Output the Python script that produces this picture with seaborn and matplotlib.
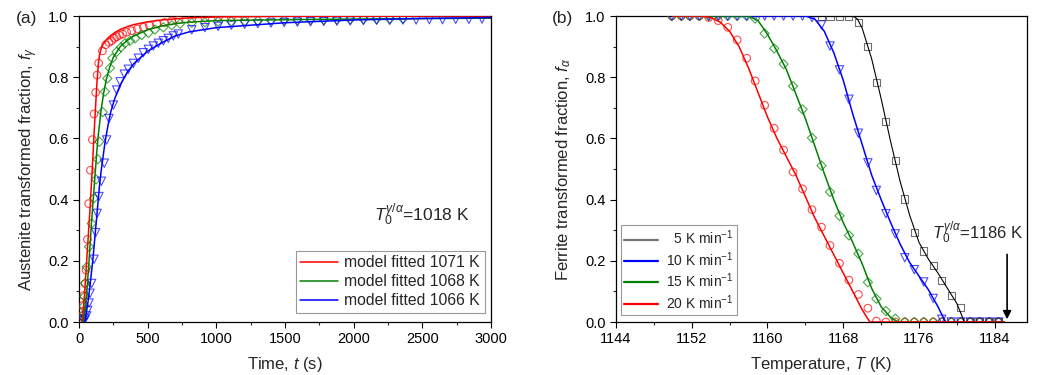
import matplotlib
matplotlib.use("Agg")
import matplotlib.pyplot as plt
from matplotlib.ticker import MultipleLocator, FormatStrFormatter
import pandas as pd
import seaborn as sns

# ---------------- (a) austenite formation, isothermal ----------------
t_1071 = [5, 12, 18, 24, 30, 36, 44, 51, 61, 70, 83, 97, 109, 121, 131, 143, 170, 194, 218, 238,
          257, 274, 294, 318, 347, 383, 425, 469, 512, 566, 622, 675, 728, 821, 917, 1013, 1109, 1206]
f_1071 = [0.005, 0.01, 0.02, 0.035, 0.055, 0.087, 0.125, 0.17, 0.27, 0.387, 0.496, 0.596, 0.68, 0.75,
          0.807, 0.846, 0.886, 0.906, 0.914, 0.919, 0.927, 0.932, 0.937, 0.941, 0.947, 0.952, 0.958,
          0.963, 0.969, 0.974, 0.979, 0.984, 0.988, 0.991, 0.993, 0.995, 0.996, 0.997]

t_1068 = [8, 16, 25, 31, 39, 44, 56, 73, 92, 109, 124, 136, 148, 172, 189, 206, 225, 243, 274, 306,
          335, 371, 408, 456, 505, 553, 614, 675, 736, 821, 917, 1013, 1109, 1206, 1302, 1398, 1494,
          1590, 1686, 1782, 1878, 1975, 2071, 2167, 2263, 2359]
f_1068 = [0.004, 0.01, 0.02, 0.05, 0.083, 0.127, 0.18, 0.246, 0.322, 0.405, 0.466, 0.532, 0.589,
          0.686, 0.753, 0.796, 0.83, 0.862, 0.883, 0.898, 0.911, 0.919, 0.927, 0.938, 0.945, 0.956,
          0.963, 0.97, 0.975, 0.978, 0.98, 0.982, 0.983, 0.984, 0.985, 0.986, 0.987, 0.987, 0.988,
          0.988, 0.989, 0.989, 0.99, 0.99, 0.99, 0.991]

t_1066 = [30, 44, 56, 63, 73, 80, 92, 109, 121, 132, 145, 163, 184, 201, 218, 250, 274, 299, 330, 359,
          396, 432, 468, 505, 541, 578, 614, 650, 687, 723, 821, 917, 1013, 1109, 1206, 1302, 1398,
          1494, 1590, 1686, 1782, 1878, 1975, 2071, 2167, 2263, 2359, 2455, 2551, 2647, 2743, 2839, 2935]
f_1066 = [0.005, 0.01, 0.02, 0.038, 0.062, 0.094, 0.126, 0.205, 0.292, 0.355, 0.41, 0.46, 0.519,
          0.595, 0.665, 0.709, 0.758, 0.785, 0.81, 0.826, 0.845, 0.862, 0.88, 0.891, 0.902, 0.911,
          0.919, 0.927, 0.935, 0.941, 0.955, 0.962, 0.966, 0.97, 0.973, 0.975, 0.977, 0.979, 0.98,
          0.981, 0.982, 0.983, 0.984, 0.985, 0.986, 0.986, 0.987, 0.987, 0.988, 0.988, 0.989, 0.989, 0.99]

# model fits
tm_1071 = [20, 30, 40, 50, 60, 70, 80, 90, 100, 110, 120, 130, 140, 150, 165, 190, 220, 260, 300, 350,
           400, 500, 600, 800, 1000, 1500, 3000]
fm_1071 = [0.0, 0.03, 0.09, 0.16, 0.23, 0.3, 0.37, 0.45, 0.53, 0.62, 0.7, 0.78, 0.84, 0.875, 0.9,
           0.918, 0.932, 0.946, 0.956, 0.965, 0.972, 0.981, 0.987, 0.994, 0.997, 0.999, 1.0]
tm_1068 = [30, 40, 50, 60, 70, 80, 90, 100, 110, 120, 130, 140, 150, 160, 180, 200, 225, 250, 300, 350,
           400, 500, 600, 700, 800, 1000, 1500, 2000, 3000]
fm_1068 = [0.0, 0.03, 0.07, 0.12, 0.18, 0.25, 0.32, 0.38, 0.44, 0.5, 0.56, 0.61, 0.65, 0.69, 0.75,
           0.795, 0.835, 0.865, 0.9, 0.92, 0.935, 0.955, 0.967, 0.975, 0.98, 0.985, 0.988, 0.99, 0.993]
tm_1066 = [42, 50, 60, 70, 80, 90, 100, 110, 120, 130, 140, 150, 160, 175, 190, 210, 230, 260, 300, 350,
           400, 500, 600, 700, 800, 1000, 1500, 2000, 2500, 3000]
fm_1066 = [0.0, 0.02, 0.05, 0.08, 0.12, 0.16, 0.2, 0.25, 0.3, 0.35, 0.4, 0.45, 0.49, 0.54, 0.59, 0.64,
           0.685, 0.73, 0.775, 0.815, 0.845, 0.885, 0.912, 0.935, 0.948, 0.962, 0.978, 0.987, 0.992, 0.995]

# ---------------- (b) ferrite formation on cooling ----------------
T_exp = [1149.9, 1150.9, 1151.8, 1152.8, 1153.8, 1154.8, 1155.8, 1156.8, 1157.8, 1158.7, 1159.7,
         1160.7, 1161.7, 1162.7, 1163.7, 1164.7, 1165.7, 1166.6, 1167.6, 1168.6, 1169.6, 1170.6,
         1171.5, 1172.5, 1173.5, 1174.5, 1175.5, 1176.5, 1177.5, 1178.4, 1179.4, 1180.4, 1181.4,
         1182.4, 1183.4, 1184.4]
fa_20 = [1, 1, 1, 1, 0.995, 0.985, 0.963, 0.922, 0.862, 0.788, 0.708, 0.633, 0.562, 0.49, 0.435,
         0.367, 0.31, 0.25, 0.192, 0.137, 0.09, 0.045, 0.003, 0, 0, 0, 0, 0, 0, 0, 0, 0, 0, 0, 0, 0]
fa_15 = [1, 1, 1, 1, 1, 1, 1, 1, 1, 0.992, 0.943, 0.894, 0.843, 0.771, 0.695, 0.602, 0.511, 0.425,
         0.347, 0.283, 0.223, 0.13, 0.076, 0.036, 0.011, 0, 0, 0, 0, 0, 0, 0, 0, 0, 0, 0]
fa_10 = [1, 1, 1, 1, 1, 1, 1, 1, 1, 1, 1, 1, 1, 1, 1, 0.995, 0.971, 0.902, 0.824, 0.728, 0.617, 0.52,
         0.43, 0.354, 0.288, 0.21, 0.171, 0.131, 0.077, 0.009, 0, 0, 0, 0, 0, 0]
T_exp5 = [1165.7, 1166.6, 1167.6, 1168.6, 1169.6, 1170.6, 1171.5, 1172.5, 1173.5, 1174.5, 1175.5,
          1176.5, 1177.5, 1178.4, 1179.4, 1180.4, 1181.4, 1182.4, 1183.4, 1184.4]
fa_5 = [1, 1, 1, 1, 0.978, 0.9, 0.784, 0.656, 0.527, 0.402, 0.294, 0.232, 0.186, 0.137, 0.086, 0.048,
        0, 0, 0, 0]

Tm_20 = [1150, 1153, 1154, 1155, 1156, 1157, 1158, 1159, 1160, 1161, 1162, 1163, 1164, 1165, 1166,
         1167, 1168, 1169, 1170, 1170.8, 1185]
fm_20 = [1, 1, 0.995, 0.98, 0.95, 0.9, 0.83, 0.75, 0.67, 0.6, 0.54, 0.48, 0.41, 0.34, 0.28, 0.22,
         0.16, 0.1, 0.04, 0, 0]
Tm_15 = [1150, 1158, 1159, 1160, 1161, 1162, 1163, 1164, 1165, 1166, 1167, 1168, 1169, 1170, 1171,
         1172, 1173, 1173.8, 1185]
fm_15 = [1, 1, 0.985, 0.94, 0.885, 0.825, 0.745, 0.665, 0.575, 0.485, 0.4, 0.325, 0.26, 0.19, 0.11,
         0.05, 0.015, 0, 0]
Tm_10 = [1150, 1164, 1165, 1166, 1167, 1168, 1169, 1170, 1171, 1172, 1173, 1174, 1175, 1176, 1177,
         1178, 1178.8, 1185]
fm_10 = [1, 1, 0.99, 0.95, 0.88, 0.79, 0.68, 0.58, 0.48, 0.4, 0.325, 0.255, 0.195, 0.15, 0.105,
         0.05, 0, 0]
Tm_5 = [1165, 1169, 1169.5, 1170, 1171, 1172, 1173, 1174, 1175, 1176, 1177, 1178, 1179, 1180,
        1180.8, 1185]
fm_5 = [1, 1, 0.99, 0.96, 0.86, 0.73, 0.59, 0.46, 0.35, 0.26, 0.205, 0.16, 0.11, 0.06, 0, 0]

sns.set_style("ticks")
plt.rcParams['font.family'] = ['Liberation Sans', 'DejaVu Sans']
plt.rcParams['mathtext.fontset'] = 'custom'
plt.rcParams['mathtext.rm'] = 'Liberation Sans'
plt.rcParams['mathtext.it'] = 'Liberation Sans:italic'
plt.rcParams['mathtext.bf'] = 'Liberation Sans:bold'

fig = plt.figure(figsize=(10.44, 3.75), dpi=100)
ax1 = fig.add_axes([0.0757, 0.1413, 0.3946, 0.816])
ax2 = fig.add_axes([0.590, 0.1413, 0.3937, 0.816])


def pts(ax, x, y, color, marker, s):
    sns.scatterplot(x=x, y=y, ax=ax, marker=marker, s=s, color=color, facecolor='none',
                    edgecolor=color, linewidth=0.8, alpha=0.7, legend=False, zorder=3)


def fit(ax, x, y, color, label):
    sns.lineplot(x=x, y=y, ax=ax, color=color, lw=1.1, label=label, zorder=4)


# panel (a)
pts(ax1, t_1071, f_1071, 'red', 'o', 30)
pts(ax1, t_1068, f_1068, 'green', 'D', 22)
pts(ax1, t_1066, f_1066, 'blue', 'v', 36)
fit(ax1, tm_1071, fm_1071, 'red', 'model fitted 1071 K')
fit(ax1, tm_1068, fm_1068, 'green', 'model fitted 1068 K')
fit(ax1, tm_1066, fm_1066, 'blue', 'model fitted 1066 K')

ax1.set_xlim(0, 3000)
ax1.set_ylim(0, 1.0)
ax1.xaxis.set_major_locator(MultipleLocator(500))
ax1.xaxis.set_minor_locator(MultipleLocator(250))
ax1.set_xlabel('Time, $t$ (s)', fontsize=12, labelpad=6)
ax1.set_ylabel(r'Austenite transformed fraction, $f_{\gamma}$', fontsize=12, labelpad=6)
ax1.text(2150, 0.33, r'$T_0^{\gamma/\alpha}$=1018 K', fontsize=12.5, va='baseline')
leg1 = ax1.legend(loc='lower right', bbox_to_anchor=(0.985, 0.03), borderaxespad=0,
                  fontsize=11.3, handlelength=2.4, handletextpad=0.4, labelspacing=0.25,
                  borderpad=0.3, fancybox=False, edgecolor='#999999', framealpha=1)
leg1.get_frame().set_linewidth(0.8)

# panel (b)
pts(ax2, T_exp, fa_20, 'red', 'o', 30)
pts(ax2, T_exp, fa_15, 'green', 'D', 22)
pts(ax2, T_exp, fa_10, 'blue', 'v', 36)
pts(ax2, T_exp5, fa_5, '#333333', 's', 26)
fit(ax2, Tm_5, fm_5, 'black', '  5 K min$^{-1}$')
fit(ax2, Tm_10, fm_10, 'blue', '10 K min$^{-1}$')
fit(ax2, Tm_15, fm_15, 'green', '15 K min$^{-1}$')
fit(ax2, Tm_20, fm_20, 'red', '20 K min$^{-1}$')
ax2.get_lines()[0].set_linewidth(0.8)

ax2.set_xlim(1144, 1187.4)
ax2.set_ylim(0, 1.0)
ax2.xaxis.set_major_locator(MultipleLocator(8))
ax2.xaxis.set_minor_locator(MultipleLocator(4))
ax2.set_xlabel('Temperature, $T$ (K)', fontsize=12, labelpad=6)
ax2.set_ylabel(r'Ferrite transformed fraction, $f_{\alpha}$', fontsize=12, labelpad=9)
ax2.text(1177.4, 0.27, r'$T_0^{\gamma/\alpha}$=1186 K', fontsize=12, va='baseline')
ax2.annotate('', xy=(1185.3, 0.0), xytext=(1185.3, 0.23),
             arrowprops=dict(arrowstyle='-|>', color='black', lw=1.2, mutation_scale=12))
leg2 = ax2.legend(loc='lower left', bbox_to_anchor=(0.012, 0.023), borderaxespad=0,
                  fontsize=10, handlelength=2.4, handletextpad=0.6, labelspacing=0.2,
                  borderpad=0.25, fancybox=False, edgecolor='#999999', framealpha=1)
leg2.get_frame().set_linewidth(0.8)
for ln in leg2.get_lines():
    ln.set_linewidth(1.6)
leg2.get_lines()[0].set_color('#777777')

for ax in (ax1, ax2):
    ax.yaxis.set_major_locator(MultipleLocator(0.2))
    ax.yaxis.set_minor_locator(MultipleLocator(0.1))
    ax.yaxis.set_major_formatter(FormatStrFormatter('%.1f'))
    ax.tick_params(which='major', direction='out', length=4, width=0.8, labelsize=10.5, colors='black')
    ax.tick_params(which='minor', direction='out', length=2.5, width=0.8)
    for sp in ax.spines.values():
        sp.set_visible(True)
        sp.set_color('black')
        sp.set_linewidth(0.9)

fig.text(16 / 1044, 1 - 19 / 375, '(a)', fontsize=12.5, va='center')
fig.text(552 / 1044, 1 - 19 / 375, '(b)', fontsize=12.5, va='center')

fig.savefig('out.png', dpi=100)
